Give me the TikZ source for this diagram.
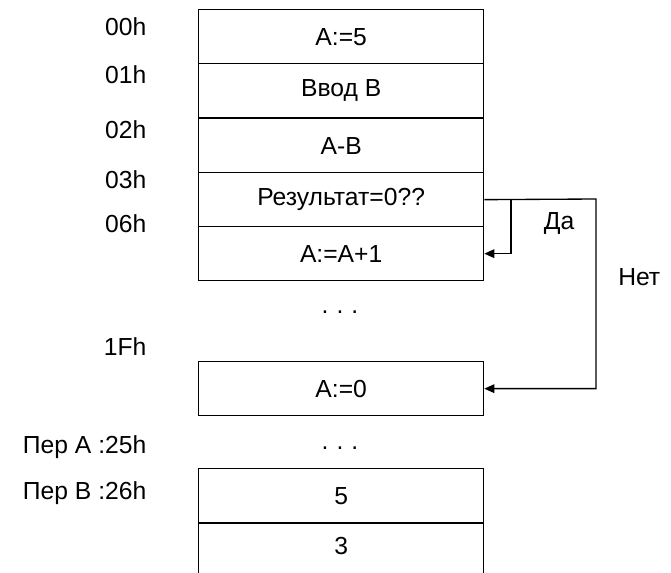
\documentclass[tikz,border=0pt]{standalone}
\usepackage{fontspec}
\setmainfont{Liberation Sans}
\usetikzlibrary{arrows.meta}

\tikzset{
  cell/.style={draw, line width=1pt, minimum width=285*0.75pt, minimum height=54*0.75pt,
    inner sep=0pt, anchor=north west, font=\fontsize{18.5}{21}\selectfont},
  addr/.style={anchor=east, font=\fontsize{18.5}{21}\selectfont},
  gap/.style={anchor=base, font=\fontsize{18.5}{21}\selectfont},
  jump/.style={line width=1pt, -{Triangle[length=7.5pt,width=6.5pt]}}
}

\begin{document}
\begin{tikzpicture}[x=0.75pt,y=-0.75pt]
            \useasboundingbox (0,0) rectangle (671,573);
            \clip (0,0) rectangle (671,573);
            % Program cells
            \node[cell] (c00) at (198,9) {A:=5};
            \node[cell] (c01) at (198,63) {Ввод B};
            \node[cell] (c02) at (198,118) {A-B};
            \node[cell] (c03) at (198,172) {Результат=0??};
            \node[cell] (c06) at (198,226) {A:=A+1};
            \node[gap] (gap1) at (340,314) {.\hspace{6pt}.\hspace{6pt}.};
            \node[cell] (c1F) at (198,361) {A:=0};
            \node[gap] (gap2) at (340,449) {.\hspace{6pt}.\hspace{6pt}.};
            % Variable cells
            \node[cell] (varA) at (198,468) {5};
            \node[cell, minimum height=60*0.75pt, text depth=12pt] (varB) at (198,523) {3};
            % Addresses
            \node[addr] at (151,27) {00h};
            \node[addr] at (151,75) {01h};
            \node[addr] at (151,130) {02h};
            \node[addr] at (151,180) {03h};
            \node[addr] at (151,224) {06h};
            \node[addr] at (151,347) {1Fh};
            \node[addr] at (151,447) {Пер A :25h};
            \node[addr] at (151,493) {Пер B :26h};
            % Branches
            \coordinate (noX) at (596,199);
            \coordinate (yesX) at (511,199);
            \draw[jump] (c03.east) -- (noX) |- (c1F.east);
            \draw[jump] (yesX) |- (c06.east);
            \node[addr] at (579,223) {Да};
            \node[addr] at (665,277) {Нет};
        \end{tikzpicture}
\end{document}
